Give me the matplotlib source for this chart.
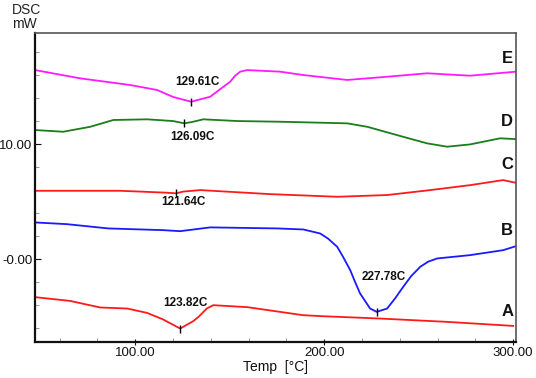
import numpy as np
import matplotlib
matplotlib.use('Agg')
import matplotlib.pyplot as plt
from matplotlib.ticker import MultipleLocator

plt.rcParams['font.family'] = ['Liberation Sans', 'DejaVu Sans']

# curves: temperature (C) and heat flow (mW)
temp_E = [47, 70.9, 97.4, 111.6, 120.1, 129.6, 139.7, 143.2, 150.3, 152.9, 155.6, 159.3, 176.7, 188.9, 212.2, 233.3, 254.5, 277.2, 301.5]
dsc_E = [16.43, 15.71, 15.13, 14.70, 14.09, 13.68, 14.11, 14.55, 15.42, 15.94, 16.29, 16.43, 16.29, 16.0, 15.57, 15.85, 16.15, 15.94, 16.29]

temp_D = [47, 61.9, 76.2, 88.4, 106.3, 120.0, 126.1, 130.7, 136.0, 154.0, 176.7, 212.2, 222.8, 241.8, 254.5, 265.1, 277.2, 293.1, 301.5]
dsc_D = [11.22, 11.07, 11.50, 12.09, 12.15, 12.0, 11.80, 11.94, 12.15, 12.0, 11.94, 11.80, 11.50, 10.63, 10.06, 9.77, 9.97, 10.50, 10.43]

temp_C = [47, 92.1, 115.9, 121.6, 125.4, 134.4, 150.3, 171.4, 206.9, 233.3, 256.1, 277.2, 294.7, 301.5]
dsc_C = [5.94, 5.94, 5.78, 5.72, 5.87, 6.0, 5.85, 5.65, 5.42, 5.57, 6.0, 6.43, 6.87, 6.63]

temp_B = [47, 63.9, 85.7, 114.8, 123.8, 139.7, 175.1, 188.9, 197.9, 202.1, 206.9, 210.1, 213.8, 216.4, 219.0,
          224.3, 227.8, 233.3, 237.6, 241.8, 246.0, 250.8, 255.0, 259.8, 277.2, 294.7, 301.5]
dsc_B = [3.19, 3.04, 2.67, 2.52, 2.43, 2.76, 2.67, 2.58, 2.23, 1.78, 1.07, 0.17, -0.96, -2.0, -2.98,
         -4.29, -4.58, -4.29, -3.39, -2.41, -1.48, -0.67, -0.22, 0.06, 0.35, 0.78, 1.13]

temp_A = [47, 65.6, 81.5, 95.8, 106.3, 114.8, 123.8, 130.7, 133.5, 137.9, 141.3, 159.3, 188.9, 199.5, 229.6, 265.1, 300.0]
dsc_A = [-3.30, -3.63, -4.20, -4.29, -4.67, -5.24, -6.03, -5.39, -5.02, -4.29, -4.0, -4.17, -4.87, -4.96, -5.16, -5.45, -5.80]

curve_names = ['E', 'D', 'C', 'B', 'A']
curve_colors = ['#ff1aff', '#1b7d1b', '#ff1a1a', '#1a1aff', '#ff1a1a']
name_y = [17.45, 11.94, 8.26, 2.52, -4.58]

# peak picks: position, value, label position
peak_T = [129.61, 126.09, 121.64, 227.78, 123.82]
peak_y = [13.68, 11.80, 5.72, -4.58, -6.03]
peak_text = ['129.61C', '126.09C', '121.64C', '227.78C', '123.82C']
peak_text_T = [132.8, 130.2, 125.6, 231.4, 126.5]
peak_text_y = [15.37, 10.61, 4.93, -1.54, -3.77]

xticks = [100, 200, 300]
xtick_labels = ['100.00', '200.00', '300.00']
yticks = [0, 10]
ytick_labels = ['-0.00', '10.00']

fig = plt.figure(figsize=(5.36, 3.78), dpi=100)
ax = fig.add_axes([0.0653, 0.0952, 0.8974, 0.8175])

curves = [(temp_E, dsc_E), (temp_D, dsc_D), (temp_C, dsc_C), (temp_B, dsc_B), (temp_A, dsc_A)]
for (t, d), c in zip(curves, curve_colors):
    ax.plot(t, d, color=c, lw=1.3, solid_joinstyle='round')

for name, yy in zip(curve_names, name_y):
    ax.text(296.8, yy, name, ha='center', va='center', fontsize=12, fontweight='bold', color='#111111')

ax.plot(peak_T, peak_y, ls='none', marker='|', color='black', markersize=6, markeredgewidth=1)
for s, tx, ty in zip(peak_text, peak_text_T, peak_text_y):
    ax.text(tx, ty, s, ha='center', va='center', fontsize=8.5, fontweight='bold', color='#111111')

ax.set_xlim(47, 301.5)
ax.set_ylim(-7.2, 19.65)
ax.set_xticks(xticks)
ax.set_xticklabels(xtick_labels)
ax.set_yticks(yticks)
ax.set_yticklabels(ytick_labels)
ax.xaxis.set_minor_locator(MultipleLocator(20))
ax.yaxis.set_minor_locator(MultipleLocator(2))
ax.tick_params(axis='x', which='major', direction='inout', length=5, width=0.8, labelsize=9.5, pad=1, colors='#111111')
ax.tick_params(axis='y', which='major', direction='in', length=4, width=0.8, labelsize=9.5, pad=2, colors='#111111')
ax.tick_params(which='minor', direction='in', length=3, width=0.6, colors='#888888')

for side in ['left', 'bottom']:
    ax.spines[side].set_linewidth(1.6)
    ax.spines[side].set_color('#111111')
for side in ['top', 'right']:
    ax.spines[side].set_linewidth(1.2)
    ax.spines[side].set_color('#555555')

fig.text(12 / 536, 1 - 10 / 378, 'DSC', ha='left', va='center', fontsize=10, color='#222222')
fig.text(12 / 536, 1 - 24 / 378, 'mW', ha='left', va='center', fontsize=10, color='#222222')
ax.set_xlabel('Temp  [\u00b0C]', fontsize=10, labelpad=1, color='#111111')

fig.savefig('out.png', dpi=100)
